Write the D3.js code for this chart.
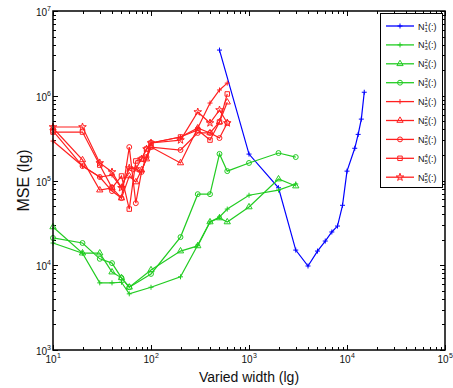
<!DOCTYPE html>
<html>
<head>
<meta charset="utf-8">
<script src="https://cdn.jsdelivr.net/npm/d3@7"></script>
<style>
  body { margin: 0; background: #fff; }
  text { font-family: "Liberation Sans", Arial, sans-serif; fill: #111; }
</style>
</head>
<body>
<div id="chart"></div>
<script>
// widths (x values)
const widthN1 = [500, 1000, 2000, 3000, 4000, 5000, 6000, 7000, 8000, 9000, 10000, 12000, 13000, 14000, 15000];
const widthN3 = [10, 20, 30, 40, 50, 60, 100, 200, 300, 400, 500, 600, 1000, 2000, 3000];
const widthN5 = [10, 20, 30, 40, 50, 60, 70, 80, 90, 100, 200, 300, 400, 500, 600];

// MSE values
const mseN1_1 = [3.46e6, 2.05e5, 8.2e4, 1.51e4, 9.8e3, 1.47e4, 1.93e4, 2.47e4, 2.9e4, 5.1e4, 1.29e5, 2.4e5, 3.5e5, 5.3e5, 1.1e6];
const mseN3_1 = [1.83e4, 1.39e4, 6.2e3, 6.2e3, 6.3e3, 4.6e3, 5.5e3, 7.3e3, 1.73e4, 3.24e4, 3.71e4, 4.6e4, 6.7e4, 7.7e4, 9.1e4];
const mseN3_2 = [2.83e4, 1.39e4, 1.39e4, 8.3e3, 7.1e3, 5.5e3, 8.8e3, 1.47e4, 1.69e4, 3.24e4, 3.61e4, 3.24e4, 4.87e4, 1.04e5, 8.6e4];
const mseN3_3 = [2.1e4, 1.83e4, 1.19e4, 1.06e4, 7.1e3, 5.5e3, 7.9e3, 2.15e4, 6.9e4, 6.9e4, 2.06e5, 1.29e5, 1.61e5, 2.11e5, 1.89e5];
const mseN5_1 = [2.92e5, 1.48e5, 1.1e5, 1.16e5, 8.2e4, 1.4e5, 1.37e5, 1.26e5, 1.89e5, 2.77e5, 3.26e5, 4.16e5, 8.2e5, 1.17e6, 1.41e6];
const mseN5_2 = [4.16e5, 1.75e5, 7.7e4, 8.2e4, 6.2e4, 1.13e5, 9.6e4, 1.33e5, 1.79e5, 2.48e5, 1.61e5, 4.16e5, 3.64e5, 4.9e5, 8.4e5];
const mseN5_3 = [3.84e5, 1.48e5, 1.1e5, 7.5e4, 6.2e4, 2.48e5, 5.4e4, 1.26e5, 1.89e5, 2.48e5, 2.29e5, 3.64e5, 3.64e5, 3.17e5, 4.77e5];
const mseN5_4 = [3.73e5, 3.73e5, 1.52e5, 8.2e4, 1.13e5, 4.6e4, 1.7e5, 1.79e5, 2.35e5, 2.77e5, 3.26e5, 3.94e5, 3.0e5, 4.9e5, 1.05e6];
const mseN5_5 = [4.28e5, 4.28e5, 1.61e5, 1.26e5, 8.2e4, 1.4e5, 1.37e5, 1.79e5, 2.35e5, 2.77e5, 3.0e5, 6.43e5, 4.77e5, 6.79e5, 4.77e5];

// legend labels: [subscript, superscript]
const legendSub = [1, 3, 3, 3, 5, 5, 5, 5, 5];
const legendSup = [1, 1, 2, 3, 1, 2, 3, 4, 5];

const xTickVals = [1e1, 1e2, 1e3, 1e4, 1e5];
const xTickExp = ["1", "2", "3", "4", "5"];
const yTickVals = [1e3, 1e4, 1e5, 1e6, 1e7];
const yTickExp = ["3", "4", "5", "6", "7"];

const blue = "#0000ff", green = "#22cc22", red = "#ff2020";

let series = [
  { x: widthN1, y: mseN1_1, color: blue, marker: "plus" },
  { x: widthN3, y: mseN3_1, color: green, marker: "plus" },
  { x: widthN3, y: mseN3_2, color: green, marker: "triangle" },
  { x: widthN3, y: mseN3_3, color: green, marker: "circle" },
  { x: widthN5, y: mseN5_1, color: red, marker: "plus" },
  { x: widthN5, y: mseN5_2, color: red, marker: "triangle" },
  { x: widthN5, y: mseN5_3, color: red, marker: "circle" },
  { x: widthN5, y: mseN5_4, color: red, marker: "square" },
  { x: widthN5, y: mseN5_5, color: red, marker: "star" }
];

let margin = { top: 11, right: 8, bottom: 38, left: 53 },
  width = 453 - margin.left - margin.right,
  height = 388 - margin.top - margin.bottom;

let svg = d3.select("#chart")
  .append("svg")
  .attr("width", 453)
  .attr("height", 388)
  .append("g")
  .attr("transform", "translate(" + margin.left + "," + margin.top + ")");

let x = d3.scaleLog().domain([10, 1e5]).range([0, width]);
let y = d3.scaleLog().domain([1e3, 1e7]).range([height, 0]);

function markerPath(type) {
  if (type === "plus") return "M-2.5,0H2.5M0,-2.5V2.5";
  let t = { triangle: d3.symbolTriangle, circle: d3.symbolCircle, square: d3.symbolSquare, star: d3.symbolStar }[type];
  let s = { triangle: 17, circle: 19, square: 20, star: 18 }[type];
  return d3.symbol().type(t).size(s)();
}

// ticks (inside, all four sides)
let minorX = x.ticks(), minorY = y.ticks();
let ticks = svg.append("g").attr("stroke", "#000").attr("stroke-width", 1);
minorX.forEach(v => {
  let len = xTickVals.includes(v) ? 5 : 3;
  let px = Math.round(x(v)) + 0.5;
  ticks.append("line").attr("x1", px).attr("x2", px).attr("y1", height).attr("y2", height - len);
  ticks.append("line").attr("x1", px).attr("x2", px).attr("y1", 0).attr("y2", len);
});
minorY.forEach(v => {
  let len = yTickVals.includes(v) ? 5 : 3;
  let py = Math.round(y(v)) + 0.5;
  ticks.append("line").attr("y1", py).attr("y2", py).attr("x1", 0).attr("x2", len);
  ticks.append("line").attr("y1", py).attr("y2", py).attr("x1", width).attr("x2", width - len);
});

// tick labels
xTickVals.forEach((v, i) => {
  svg.append("text").attr("x", x(v) - 2).attr("y", height + 13)
    .attr("text-anchor", "middle").style("font-size", "10px").text("10");
  svg.append("text").attr("x", x(v) + 4).attr("y", height + 8)
    .style("font-size", "7px").text(xTickExp[i]);
});
yTickVals.forEach((v, i) => {
  svg.append("text").attr("x", -6).attr("y", y(v) + 5)
    .attr("text-anchor", "end").style("font-size", "10px").text("10");
  svg.append("text").attr("x", -6).attr("y", y(v) + 0)
    .style("font-size", "7px").text(yTickExp[i]);
});

// axis titles
svg.append("text")
  .attr("x", width / 2).attr("y", height + 32)
  .attr("text-anchor", "middle").style("font-size", "14px")
  .text("Varied width (lg)");
svg.append("text")
  .attr("transform", "translate(" + (-24) + "," + (height / 2) + ") rotate(-90)")
  .attr("text-anchor", "middle").style("font-size", "16px")
  .text("MSE (lg)");

// lines and markers
let line = d3.line().x(d => x(d[0])).y(d => y(d[1]));
series.forEach(s => {
  let pts = s.x.map((v, i) => [v, s.y[i]]);
  svg.append("path")
    .datum(pts)
    .attr("d", line)
    .attr("fill", "none")
    .attr("stroke", s.color)
    .attr("stroke-width", 1.2);
  svg.append("g").selectAll("path")
    .data(pts)
    .join("path")
    .attr("transform", d => "translate(" + x(d[0]) + "," + y(d[1]) + ")")
    .attr("d", markerPath(s.marker))
    .attr("fill", "none")
    .attr("stroke", s.color)
    .attr("stroke-width", 1);
});

// frame
svg.append("rect")
  .attr("x", 0).attr("y", 0).attr("width", width).attr("height", height)
  .attr("fill", "none").attr("stroke", "#000").attr("stroke-width", 1.5);

// legend
let lx = 380 - margin.left, ly = 13 - margin.top;
let legend = svg.append("g").attr("transform", "translate(" + lx + "," + ly + ")");
legend.append("rect")
  .attr("x", 0.5).attr("y", 0.5).attr("width", 62).attr("height", 174)
  .attr("fill", "#fff").attr("stroke", "#000").attr("stroke-width", 1);
series.forEach((s, i) => {
  let yy = 13 + i * 18.9;
  legend.append("line").attr("x1", 6).attr("x2", 34).attr("y1", yy).attr("y2", yy)
    .attr("stroke", s.color).attr("stroke-width", 1.3);
  legend.append("path").attr("transform", "translate(20," + yy + ")")
    .attr("d", markerPath(s.marker)).attr("fill", "none")
    .attr("stroke", s.color).attr("stroke-width", 1);
  legend.append("text").attr("x", 38).attr("y", yy + 3.5).style("font-size", "9px").text("N");
  legend.append("text").attr("x", 44.5).attr("y", yy - 0.5).style("font-size", "6px").text(legendSup[i]);
  legend.append("text").attr("x", 44.5).attr("y", yy + 5.5).style("font-size", "6px").text(legendSub[i]);
  legend.append("text").attr("x", 48).attr("y", yy + 3.5).style("font-size", "9px").text("(:)");
});
</script>
</body>
</html>
